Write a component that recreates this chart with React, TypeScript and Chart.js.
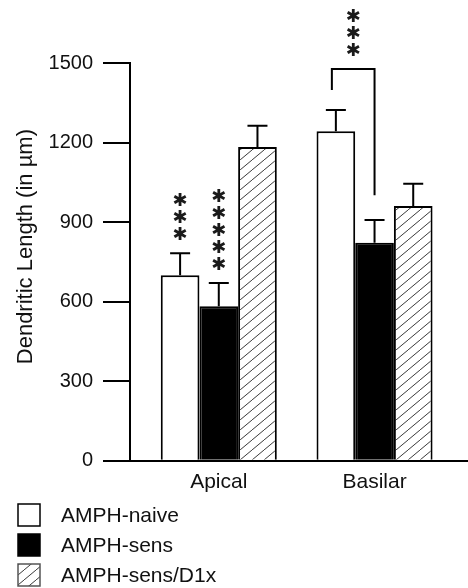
import React, { useEffect, useRef } from 'react';
import { Chart, registerables } from 'chart.js';

Chart.register(...registerables);

const categories = ['Apical', 'Basilar'];
const seriesNames = ['AMPH-naive', 'AMPH-sens', 'AMPH-sens/D1x'];
const naiveValues = [700, 1243];
const sensValues = [583, 822];
const d1xValues = [1183, 961];
const naiveErrors = [83, 80];
const sensErrors = [87, 86];
const d1xErrors = [80, 84];
const yMin = 0;
const yMax = 1500;
const yStep = 300;
const yTitle = '     Dendritic Length (in \u00b5m)';
// significance marks: stars above a bar (series index, category index, count)
const starMarks = [
  { series: 0, category: 0, count: 3 },
  { series: 1, category: 0, count: 5 },
];
// bracket between two bars of one category (values in y units)
const bracketMarks = [
  { fromSeries: 0, toSeries: 1, category: 1, top: 1477, leftEnd: 1398, rightEnd: 1001, count: 3 },
];

const FONT = "'Liberation Sans', Arial, sans-serif";

function makeHatch(): CanvasPattern | string {
  const c = document.createElement('canvas');
  c.width = 12;
  c.height = 10;
  const g = c.getContext('2d');
  if (!g) return '#fff';
  g.fillStyle = '#fff';
  g.fillRect(0, 0, 12, 10);
  g.strokeStyle = '#3a3a3a';
  g.lineWidth = 1;
  g.beginPath();
  g.moveTo(-12, 10); g.lineTo(0, 0);
  g.moveTo(0, 10); g.lineTo(12, 0);
  g.moveTo(12, 10); g.lineTo(24, 0);
  g.stroke();
  const p = g.createPattern(c, 'repeat');
  return p || '#fff';
}

const errorBarPlugin = {
  id: 'errorBars',
  afterDatasetsDraw(chart: any) {
    const ctx = chart.ctx;
    const y = chart.scales.y;
    ctx.save();
    ctx.strokeStyle = '#000';
    ctx.lineWidth = 2;
    chart.data.datasets.forEach((ds: any, di: number) => {
      const meta = chart.getDatasetMeta(di);
      meta.data.forEach((bar: any, i: number) => {
        const v = ds.data[i].y;
        const e = ds.errors[i];
        const top = y.getPixelForValue(v + e);
        ctx.beginPath();
        ctx.moveTo(bar.x, bar.y);
        ctx.lineTo(bar.x, top);
        ctx.moveTo(bar.x - 10, top);
        ctx.lineTo(bar.x + 10, top);
        ctx.stroke();
      });
    });
    ctx.restore();
  },
};

function drawStars(ctx: CanvasRenderingContext2D, x: number, bottomY: number, count: number) {
  ctx.save();
  ctx.fillStyle = '#1a1a1a';
  ctx.font = `18px 'DejaVu Sans', sans-serif`;
  ctx.textAlign = 'center';
  ctx.textBaseline = 'middle';
  for (let k = 0; k < count; k++) {
    ctx.fillText('\u2731', x, bottomY - k * 17);
  }
  ctx.restore();
}

const annotationPlugin = {
  id: 'sigMarks',
  afterDatasetsDraw(chart: any) {
    const ctx = chart.ctx;
    const y = chart.scales.y;
    starMarks.forEach((m) => {
      const ds: any = chart.data.datasets[m.series];
      const bar: any = chart.getDatasetMeta(m.series).data[m.category];
      const top = y.getPixelForValue(ds.data[m.category].y + ds.errors[m.category]);
      drawStars(ctx, bar.x, top - 18, m.count);
    });
    bracketMarks.forEach((b) => {
      const b1: any = chart.getDatasetMeta(b.fromSeries).data[b.category];
      const b2: any = chart.getDatasetMeta(b.toSeries).data[b.category];
      const x1 = b1.x - 4;
      const x2 = b2.x;
      const yt = y.getPixelForValue(b.top);
      ctx.save();
      ctx.strokeStyle = '#000';
      ctx.lineWidth = 2;
      ctx.beginPath();
      ctx.moveTo(x1, y.getPixelForValue(b.leftEnd));
      ctx.lineTo(x1, yt);
      ctx.lineTo(x2, yt);
      ctx.lineTo(x2, y.getPixelForValue(b.rightEnd));
      ctx.stroke();
      ctx.restore();
      drawStars(ctx, (x1 + x2) / 2, yt - 18, b.count);
    });
  },
};

const legendPlugin = {
  id: 'stackLegend',
  afterDraw(chart: any) {
    const ctx = chart.ctx;
    const startY = chart.scales.x.bottom + 11;
    ctx.save();
    chart.data.datasets.forEach((ds: any, i: number) => {
      const cy = startY + i * 30;
      ctx.fillStyle = ds.backgroundColor;
      ctx.fillRect(18, cy - 11, 22, 22);
      ctx.strokeStyle = i === 2 ? '#555' : '#000';
      ctx.lineWidth = 1.5;
      ctx.strokeRect(18, cy - 11, 22, 22);
      ctx.fillStyle = '#111';
      ctx.font = `21px ${FONT}`;
      ctx.textAlign = 'left';
      ctx.textBaseline = 'middle';
      ctx.fillText(ds.label, 61, cy + 1);
    });
    ctx.restore();
  },
};

export default function App() {
  const ref = useRef<HTMLCanvasElement | null>(null);

  useEffect(() => {
    document.body.style.margin = '0';
    if (!ref.current) return;
    const hatch = makeHatch();
    const seriesValues = [naiveValues, sensValues, d1xValues];
    const seriesErrors = [naiveErrors, sensErrors, d1xErrors];
    const fills: any[] = ['#ffffff', '#000000', hatch];
    const datasets = seriesNames.map((name, si) => ({
      label: name,
      data: categories.map((_, ci) => ({ x: ci, y: seriesValues[si][ci] })),
      errors: seriesErrors[si],
      backgroundColor: fills[si],
      borderColor: '#000',
      borderWidth: 2,
      categoryPercentage: 0.745,
      barPercentage: 1,
    }));

    const chart = new Chart(ref.current, {
      type: 'bar',
      data: { datasets } as any,
      options: {
        animation: false,
        responsive: false,
        maintainAspectRatio: false,
        layout: { padding: { top: 63, right: 0, bottom: 84, left: 0 } },
        plugins: {
          legend: { display: false },
          tooltip: { enabled: false },
        },
        scales: {
          x: {
            type: 'linear',
            offset: false,
            min: -0.57,
            max: 1.6,
            afterBuildTicks: (scale: any) => {
              scale.ticks = categories.map((_, i) => ({ value: i }));
            },
            grid: { display: false, drawTicks: false },
            border: { display: true, color: '#000', width: 2 },
            ticks: {
              padding: 9,
              color: '#111',
              font: { family: FONT, size: 21 },
              callback: (v: any) => categories[v] ?? '',
              maxRotation: 0,
              autoSkip: false,
            },
          },
          y: {
            min: yMin,
            max: yMax,
            afterFit: (scale: any) => {
              scale.width = 130;
            },
            grid: {
              display: true,
              drawOnChartArea: false,
              drawTicks: true,
              tickLength: 27,
              color: '#000',
              lineWidth: 2,
            },
            border: { display: true, color: '#000', width: 2 },
            ticks: {
              stepSize: yStep,
              padding: 10,
              color: '#111',
              font: { family: FONT, size: 20 },
              callback: (v: any) => String(v),
            },
            title: {
              display: true,
              text: yTitle,
              color: '#111',
              font: { family: FONT, size: 22, weight: 'normal' },
              padding: { top: 13, bottom: 0 },
            },
          },
        },
      } as any,
      plugins: [errorBarPlugin, annotationPlugin, legendPlugin],
    });
    return () => chart.destroy();
  }, []);

  return (
    <div style={{ width: 468, height: 588, background: '#fff' }}>
      <canvas ref={ref} width={468} height={588} style={{ display: 'block' }} />
    </div>
  );
}
